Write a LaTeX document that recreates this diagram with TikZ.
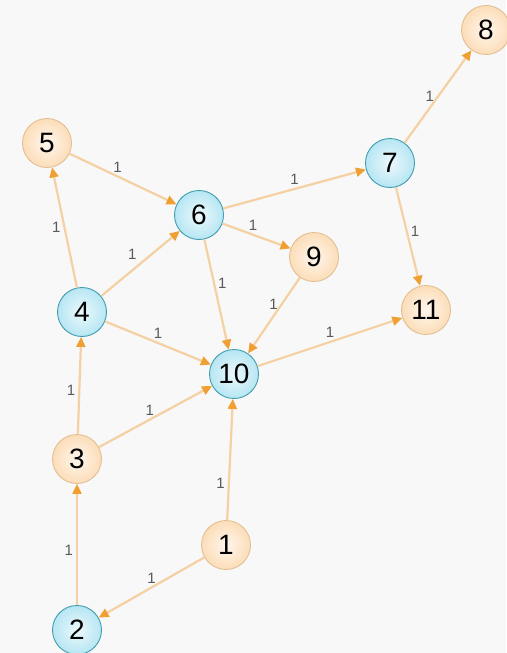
\documentclass[tikz,border=0pt]{standalone}
\usepackage{fontspec}
\setmainfont{Liberation Sans}
\usepackage{xcolor}
\definecolor{cBack}{HTML}{F8F8F8}
\definecolor{cPeach}{HTML}{FCDDB8}
\definecolor{cPeachLine}{HTML}{E2BF94}
\definecolor{cSky}{HTML}{B6E6F3}
\definecolor{cSkyLine}{HTML}{3F9DAE}
\definecolor{cEdge}{HTML}{F4D0A2}
\definecolor{cTip}{HTML}{F0A033}
\definecolor{cLabel}{HTML}{5A5A5A}
\usepackage{tikz}
\usetikzlibrary{arrows.meta}
\tikzset{
  node-base/.style={circle,minimum size=49pt,inner sep=0pt,line width=0.9pt,
    font=\fontsize{28}{28}\selectfont,text=black},
  node-peach/.style={node-base,draw=cPeachLine,inner color=cPeach!25,outer color=cPeach},
  node-sky/.style={node-base,draw=cSkyLine,inner color=cSky!25,outer color=cSky},
  arrow/.style={-{Triangle[length=10pt,width=9pt,color=cTip]},line width=2.2pt,draw=cEdge},
  edge-label/.style={font=\fontsize{15}{15}\selectfont,text=cLabel,inner sep=3pt},
}
\begin{document}
\begin{tikzpicture}[x=1pt,y=-1pt]
  \useasboundingbox[fill=cBack] (0,0) rectangle (506,653);
  % nodes
  \node[node-peach] (n1)  at (226,545) {1};
  \node[node-sky]   (n2)  at (77,630)  {2};
  \node[node-peach] (n3)  at (77,459)  {3};
  \node[node-sky]   (n4)  at (82,312)  {4};
  \node[node-peach] (n5)  at (47,143)  {5};
  \node[node-sky]   (n6)  at (199,215) {6};
  \node[node-sky]   (n7)  at (390,163) {7};
  \node[node-peach] (n8)  at (486,30)  {8};
  \node[node-peach] (n9)  at (314,257) {9};
  \node[node-sky]   (n10) at (234,374) {10};
  \node[node-peach] (n11) at (426,310) {11};
  % edges
  \draw[arrow] (n2)  -- node[edge-label,left,pos=0.45]       {1} (n3);
  \draw[arrow] (n3)  -- node[edge-label,left,pos=0.45]       {1} (n4);
  \draw[arrow] (n4)  -- node[edge-label,left,pos=0.5]        {1} (n5);
  \draw[arrow] (n5)  -- node[edge-label,above,pos=0.45]      {1} (n6);
  \draw[arrow] (n4)  -- node[edge-label,above left,pos=0.5]  {1} (n6);
  \draw[arrow] (n4)  -- node[edge-label,above,pos=0.5]       {1} (n10);
  \draw[arrow] (n3)  -- node[edge-label,above,pos=0.45]      {1} (n10);
  \draw[arrow] (n1)  -- node[edge-label,left,pos=0.3]        {1} (n10);
  \draw[arrow] (n1)  -- node[edge-label,above,pos=0.5]       {1} (n2);
  \draw[arrow] (n6)  -- node[edge-label,right,pos=0.4]       {1} (n10);
  \draw[arrow] (n6)  -- node[edge-label,above,pos=0.45]      {1} (n9);
  \draw[arrow] (n9)  -- node[edge-label,left,pos=0.35]       {1} (n10);
  \draw[arrow] (n6)  -- node[edge-label,above,pos=0.5]       {1} (n7);
  \draw[arrow] (n7)  -- node[edge-label,left,pos=0.5]        {1} (n8);
  \draw[arrow] (n7)  -- node[edge-label,right,pos=0.45]      {1} (n11);
  \draw[arrow] (n10) -- node[edge-label,above,pos=0.5]       {1} (n11);
\end{tikzpicture}
\end{document}
